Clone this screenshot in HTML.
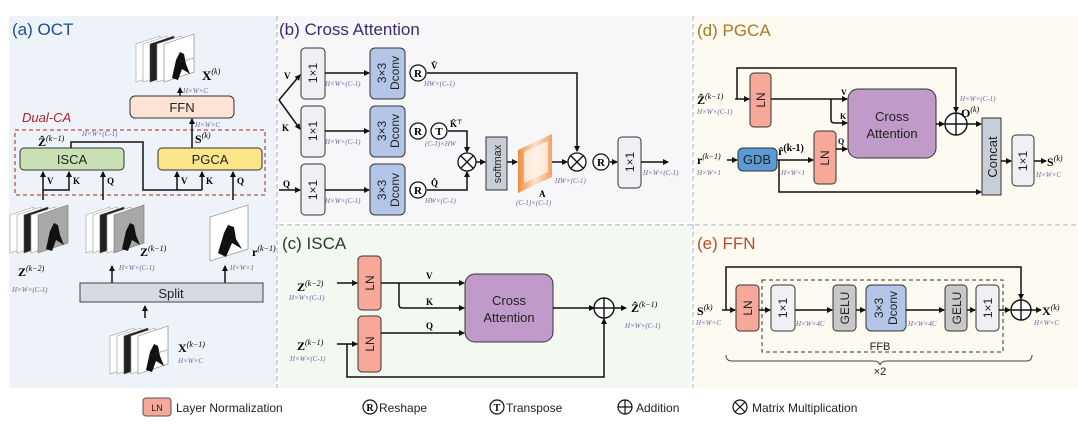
<!DOCTYPE html>
<html><head><meta charset="utf-8"><style>
html,body{margin:0;padding:0;background:#fff;}
svg{display:block;font-family:"Liberation Sans",sans-serif;}
.s{font-family:"Liberation Serif",serif;font-weight:bold;}
.d{font-family:"Liberation Serif",serif;font-style:italic;font-size:7px;fill:#6f62a0;}
.b{font-size:13px;fill:#222;}
</style></head><body>
<svg width="1078" height="428" viewBox="0 0 1078 428" xmlns="http://www.w3.org/2000/svg">
<defs>
<marker id="ar" markerWidth="6" markerHeight="6" refX="5" refY="3" orient="auto" markerUnits="userSpaceOnUse"><path d="M0,0 L6,3 L0,6 z" fill="#111"/></marker>
<linearGradient id="og" x1="0" x2="1"><stop offset="0" stop-color="#f08a3a"/><stop offset="0.5" stop-color="#fde3cc"/><stop offset="1" stop-color="#f5a060"/></linearGradient>
<g id="stk">
<polygon points="0,10 24,2 24,40 0,48" fill="#fff" stroke="#999" stroke-width="0.6"/>
<polygon points="7,10 31,2 31,40 7,48" fill="#fff" stroke="#999" stroke-width="0.6"/>
<polygon points="14,10 38,2 38,40 14,48" fill="#222" stroke="#555" stroke-width="0.6"/>
<polygon points="21,10 45,2 45,40 21,48" fill="#fff" stroke="#999" stroke-width="0.6"/>
<polygon points="28,10 58,0 58,38 28,48" fill="#fff" stroke="#777" stroke-width="0.6"/>
<path d="M36,44 L40,26 L44,18 L48,20 L50,30 L54,40 L46,35 L42,46 z" fill="#111"/>
<line x1="44" y1="28" x2="57" y2="24" stroke="#333" stroke-width="0.6" stroke-dasharray="2,1"/>
</g>
<g id="stkg">
<polygon points="0,10 24,2 24,40 0,48" fill="#fff" stroke="#999" stroke-width="0.6"/>
<polygon points="7,10 31,2 31,40 7,48" fill="#fff" stroke="#999" stroke-width="0.6"/>
<polygon points="14,10 38,2 38,40 14,48" fill="#222" stroke="#555" stroke-width="0.6"/>
<polygon points="21,10 45,2 45,40 21,48" fill="#fff" stroke="#999" stroke-width="0.6"/>
<polygon points="28,10 58,0 58,38 28,48" fill="#a8a8a8" stroke="#777" stroke-width="0.6"/>
<path d="M36,44 L40,26 L44,18 L48,20 L50,30 L54,40 L46,35 L42,46 z" fill="#111"/>
</g>
</defs>

<rect x="9" y="16" width="267" height="372" fill="#eef3fa"/>
<rect x="279" y="16" width="412" height="207" fill="#f7f7fa"/>
<rect x="279" y="227" width="412" height="161" fill="#f3f8f1"/>
<rect x="695" y="16" width="383" height="207" fill="#fdfaf2"/>
<rect x="695" y="227" width="383" height="161" fill="#fdfaf2"/>
<g stroke="#bbb" stroke-dasharray="5,3" stroke-width="1.2" fill="none">
<line x1="277" y1="16" x2="277" y2="388"/><line x1="693" y1="16" x2="693" y2="388"/>
<line x1="279" y1="225" x2="1078" y2="225"/>
</g>

<!-- (a) -->
<text x="12" y="35" font-size="17" fill="#1f4e8c">(a) OCT</text>
<use href="#stk" x="136" y="34"/>
<text x="202" y="80" class="s" font-size="13">X<tspan font-size="8" dy="-6" font-weight="normal" font-style="italic">(k)</tspan></text>
<text x="183" y="93" class="d">H×W×C</text>
<line x1="180" y1="96" x2="180" y2="88" stroke="#111" stroke-width="1.5" marker-end="url(#ar)"/>
<rect x="130" y="96" width="104" height="22" rx="5" fill="#fde3d6" stroke="#333"/>
<text x="182" y="112" class="b" text-anchor="middle">FFN</text>
<text x="22" y="122" font-size="13" font-style="italic" fill="#b22222">Dual-CA</text>
<rect x="15" y="130" width="250" height="65" fill="none" stroke="#b22222" stroke-dasharray="4,3"/>
<text x="195" y="127" class="d">H×W×C</text>
<line x1="192" y1="148" x2="192" y2="119" stroke="#111" stroke-width="1.5" marker-end="url(#ar)"/>
<text x="195" y="143" class="s" font-size="12">S<tspan font-size="8" dy="-5" font-weight="normal" font-style="italic">(k)</tspan></text>
<rect x="20" y="148" width="104" height="22" rx="4" fill="#c9e0b5" stroke="#333"/>
<text x="72" y="164" class="b" text-anchor="middle">ISCA</text>
<rect x="158" y="148" width="104" height="22" rx="4" fill="#fde58a" stroke="#333"/>
<text x="210" y="164" class="b" text-anchor="middle">PGCA</text>
<text x="38" y="146" class="s" font-size="12">Ẑ<tspan font-size="8" dy="-5" font-weight="normal" font-style="italic">(k−1)</tspan></text>
<text x="82" y="136" class="d">H×W×(C-1)</text>
<path d="M71,148 V142 H143 V190 H202" fill="none" stroke="#111" stroke-width="1.5"/>
<g stroke="#111" stroke-width="1.5" fill="none">
<line x1="43" y1="200" x2="43" y2="172" marker-end="url(#ar)"/>
<path d="M43,190 H69 V172" marker-end="url(#ar)"/>
<line x1="103" y1="200" x2="103" y2="172" marker-end="url(#ar)"/>
<line x1="177" y1="190" x2="177" y2="172" marker-end="url(#ar)"/>
<line x1="202" y1="190" x2="202" y2="172" marker-end="url(#ar)"/>
<line x1="233" y1="200" x2="233" y2="172" marker-end="url(#ar)"/>
</g>
<g class="s" font-size="9">
<text x="47" y="184">V</text><text x="73" y="184">K</text><text x="107" y="184">Q</text>
<text x="181" y="184">V</text><text x="206" y="184">K</text><text x="237" y="184">Q</text>
</g>
<use href="#stkg" x="10" y="205"/>
<use href="#stkg" x="86" y="205"/>
<g transform="translate(210,205)">
<polygon points="0,12 38,0 38,44 0,56" fill="#fff" stroke="#777" stroke-width="0.6"/>
<path d="M8,48 L14,28 L18,20 L24,22 L26,34 L32,44 L22,38 L16,52 z" fill="#111"/>
</g>
<text x="18" y="276" class="s" font-size="12">Z<tspan font-size="8" dy="-5" font-weight="normal" font-style="italic">(k−2)</tspan></text>
<text x="12" y="292" class="d">H×W×(C-1)</text>
<text x="140" y="256" class="s" font-size="12">Z<tspan font-size="8" dy="-5" font-weight="normal" font-style="italic">(k−1)</tspan></text>
<text x="119" y="270" class="d">H×W×(C-1)</text>
<text x="252" y="256" class="s" font-size="12">r<tspan font-size="8" dy="-5" font-weight="normal" font-style="italic">(k−1)</tspan></text>
<text x="230" y="270" class="d">H×W×1</text>
<line x1="112" y1="283" x2="112" y2="266" stroke="#111" stroke-width="1.5" marker-end="url(#ar)"/>
<line x1="225" y1="283" x2="225" y2="266" stroke="#111" stroke-width="1.5" marker-end="url(#ar)"/>
<rect x="80" y="283" width="183" height="19" fill="#d5dae3" stroke="#444"/>
<text x="171" y="298" class="b" text-anchor="middle">Split</text>
<line x1="145" y1="318" x2="145" y2="306" stroke="#111" stroke-width="1.5" marker-end="url(#ar)"/>
<use href="#stk" x="110" y="326"/>
<text x="178" y="352" class="s" font-size="12">X<tspan font-size="8" dy="-5" font-weight="normal" font-style="italic">(k−1)</tspan></text>
<text x="178" y="363" class="d">H×W×C</text>

<!-- (b) -->
<text x="279" y="35" font-size="17" fill="#3d2a6e">(b) Cross Attention</text>
<g fill="#eef0f3" stroke="#333">
<rect x="301" y="48" width="24" height="51" rx="4"/><rect x="301" y="106" width="24" height="51" rx="4"/><rect x="301" y="164" width="24" height="51" rx="4"/>
</g>
<g fill="#b4c6e7" stroke="#333">
<rect x="370" y="48" width="35" height="51" rx="5"/><rect x="370" y="106" width="35" height="51" rx="5"/><rect x="370" y="164" width="35" height="51" rx="5"/>
</g>
<g font-size="12" fill="#222" text-anchor="middle">
<text transform="translate(317,73) rotate(-90)">1×1</text>
<text transform="translate(317,131) rotate(-90)">1×1</text>
<text transform="translate(317,190) rotate(-90)">1×1</text>
<text transform="translate(386,73) rotate(-90)">3×3</text><text transform="translate(399,73) rotate(-90)">Dconv</text>
<text transform="translate(386,131) rotate(-90)">3×3</text><text transform="translate(399,131) rotate(-90)">Dconv</text>
<text transform="translate(386,190) rotate(-90)">3×3</text><text transform="translate(399,190) rotate(-90)">Dconv</text>
</g>
<g stroke="#111" stroke-width="1.5" fill="none">
<path d="M279,100 L300,75" marker-end="url(#ar)"/><path d="M279,100 L300,129" marker-end="url(#ar)"/>
<line x1="279" y1="190" x2="300" y2="190" marker-end="url(#ar)"/>
<line x1="325" y1="73" x2="369" y2="73" marker-end="url(#ar)"/>
<line x1="325" y1="131" x2="369" y2="131" marker-end="url(#ar)"/>
<line x1="325" y1="190" x2="369" y2="190" marker-end="url(#ar)"/>
<path d="M427,73 H577 V151" marker-end="url(#ar)"/>
<path d="M448,131 H467 V152" marker-end="url(#ar)"/>
<path d="M427,190 H467 V172" marker-end="url(#ar)"/>
<line x1="476" y1="162" x2="485" y2="162" marker-end="url(#ar)"/>
<line x1="507" y1="162" x2="517" y2="162" marker-end="url(#ar)"/>
<line x1="552" y1="162" x2="567" y2="162" marker-end="url(#ar)"/>
<line x1="610" y1="162" x2="617" y2="162" marker-end="url(#ar)"/>
<line x1="641" y1="162" x2="668" y2="162" marker-end="url(#ar)"/>
</g>
<g class="s" font-size="9"><text x="284" y="79">V</text><text x="282" y="131">K</text><text x="283" y="187">Q</text></g>
<g fill="#fff" stroke="#111" stroke-width="1.3">
<circle cx="418" cy="73" r="8"/><circle cx="418" cy="131" r="8"/><circle cx="439" cy="131" r="8"/><circle cx="418" cy="190" r="8"/>
<circle cx="467" cy="162" r="9"/><circle cx="577" cy="162" r="9"/><circle cx="601" cy="162" r="8"/>
</g>
<g stroke="#111" stroke-width="1.3"><path d="M461,156 L473,168 M473,156 L461,168"/><path d="M571,156 L583,168 M583,156 L571,168"/></g>
<g class="s" font-size="11" text-anchor="middle"><text x="418" y="77">R</text><text x="418" y="135">R</text><text x="439" y="135">T</text><text x="418" y="194">R</text><text x="601" y="166">R</text></g>
<g class="s" font-size="9"><text x="431" y="69">V̂</text><text x="450" y="127">K̂<tspan font-size="6" dy="-3">⊤</tspan></text><text x="431" y="186">Q̂</text><text x="539" y="197">A</text></g>
<text x="325" y="86" class="d">H×W×(C-1)</text><text x="325" y="144" class="d">H×W×(C-1)</text><text x="325" y="203" class="d">H×W×(C-1)</text>
<text x="424" y="86" class="d">HW×(C-1)</text><text x="425" y="146" class="d">(C-1)×HW</text><text x="425" y="203" class="d">HW×(C-1)</text>
<text x="555" y="183" class="d">HW×(C-1)</text><text x="516" y="205" class="d">(C-1)×(C-1)</text><text x="643" y="175" class="d">H×W×(C-1)</text>
<rect x="486" y="137" width="21" height="53" fill="#c8ced8" stroke="#333"/>
<text transform="translate(501,164) rotate(-90)" font-size="11" text-anchor="middle" fill="#222">softmax</text>
<polygon points="518,150 552,134 552,177 518,193" fill="url(#og)"/>
<polygon points="524,152 548,141 548,172 524,183" fill="#fff5ec" opacity="0.8"/>
<rect x="618" y="137" width="23" height="51" rx="4" fill="#eef0f3" stroke="#333"/>
<text transform="translate(634,162) rotate(-90)" font-size="12" text-anchor="middle" fill="#222">1×1</text>

<!-- (c) -->
<text x="282" y="249" font-size="17" fill="#24402a">(c) ISCA</text>
<rect x="358" y="256" width="23" height="54" rx="4" fill="#f7a899" stroke="#333"/>
<rect x="358" y="316" width="23" height="56" rx="4" fill="#f7a899" stroke="#333"/>
<text transform="translate(374,283) rotate(-90)" font-size="12" text-anchor="middle" fill="#222">LN</text>
<text transform="translate(374,344) rotate(-90)" font-size="12" text-anchor="middle" fill="#222">LN</text>
<rect x="465" y="274" width="88" height="68" rx="10" fill="#c09ac8" stroke="#333"/>
<text x="509" y="305" class="b" text-anchor="middle">Cross</text><text x="509" y="322" class="b" text-anchor="middle">Attention</text>
<g stroke="#111" stroke-width="1.5" fill="none">
<line x1="337" y1="283" x2="357" y2="283" marker-end="url(#ar)"/>
<line x1="337" y1="344" x2="357" y2="344" marker-end="url(#ar)"/>
<line x1="381" y1="283" x2="464" y2="283" marker-end="url(#ar)"/>
<path d="M399,283 V305 Q399,308 403,308 H464" marker-end="url(#ar)"/>
<line x1="381" y1="333" x2="464" y2="333" marker-end="url(#ar)"/>
<line x1="553" y1="308" x2="594" y2="308" marker-end="url(#ar)"/>
<path d="M347,344 V377 H604 V319" marker-end="url(#ar)"/>
<line x1="614" y1="308" x2="626" y2="308" marker-end="url(#ar)"/>
</g>
<g class="s" font-size="9"><text x="426" y="279">V</text><text x="426" y="305">K</text><text x="426" y="329">Q</text></g>
<circle cx="604" cy="308" r="10" fill="#fff" stroke="#111" stroke-width="1.4"/><path d="M594,308 H614 M604,298 V318" stroke="#111" stroke-width="1.4"/>
<text x="297" y="291" class="s" font-size="12">Z<tspan font-size="8" dy="-5" font-weight="normal" font-style="italic">(k−2)</tspan></text>
<text x="289" y="300" class="d">H×W×(C-1)</text>
<text x="297" y="350" class="s" font-size="12">Z<tspan font-size="8" dy="-5" font-weight="normal" font-style="italic">(k−1)</tspan></text>
<text x="290" y="361" class="d">H×W×(C-1)</text>
<text x="631" y="312" class="s" font-size="12">Ẑ<tspan font-size="8" dy="-5" font-weight="normal" font-style="italic">(k−1)</tspan></text>
<text x="625" y="328" class="d">H×W×(C-1)</text>

<!-- (d) -->
<text x="697" y="36" font-size="17" fill="#a87a22">(d) PGCA</text>
<rect x="750" y="73" width="21" height="54" rx="4" fill="#f7a899" stroke="#333"/>
<text transform="translate(765,100) rotate(-90)" font-size="12" text-anchor="middle" fill="#222">LN</text>
<rect x="814" y="131" width="22" height="53" rx="4" fill="#f7a899" stroke="#333"/>
<text transform="translate(829,158) rotate(-90)" font-size="12" text-anchor="middle" fill="#222">LN</text>
<rect x="738" y="148" width="39" height="23" rx="5" fill="#5b9bd5" stroke="#333"/>
<text x="757" y="164" class="b" text-anchor="middle">GDB</text>
<rect x="848" y="89" width="88" height="69" rx="10" fill="#c09ac8" stroke="#333"/>
<text x="892" y="121" class="b" text-anchor="middle">Cross</text><text x="892" y="138" class="b" text-anchor="middle">Attention</text>
<rect x="982" y="118" width="19" height="77" fill="#c8ced8" stroke="#333"/>
<text transform="translate(997,157) rotate(-90)" font-size="13" text-anchor="middle" fill="#222">Concat</text>
<rect x="1012" y="135" width="22" height="51" rx="4" fill="#eef0f3" stroke="#333"/>
<text transform="translate(1027,161) rotate(-90)" font-size="12" text-anchor="middle" fill="#222">1×1</text>
<g stroke="#111" stroke-width="1.5" fill="none">
<path d="M735,99 H749" marker-end="url(#ar)"/>
<path d="M737,99 V68 H956 V112" marker-end="url(#ar)"/>
<line x1="771" y1="99" x2="847" y2="99" marker-end="url(#ar)"/>
<path d="M831,99 V120 Q831,123 835,123 H847" marker-end="url(#ar)"/>
<line x1="836" y1="149" x2="847" y2="149" marker-end="url(#ar)"/>
<line x1="936" y1="124" x2="944" y2="124" marker-end="url(#ar)"/>
<line x1="967" y1="124" x2="981" y2="124" marker-end="url(#ar)"/>
<line x1="727" y1="160" x2="737" y2="160" marker-end="url(#ar)"/>
<line x1="777" y1="160" x2="813" y2="160" marker-end="url(#ar)"/>
<path d="M779,160 V192 H981" marker-end="url(#ar)"/>
<line x1="1001" y1="161" x2="1011" y2="161" marker-end="url(#ar)"/>
<line x1="1034" y1="161" x2="1046" y2="161" marker-end="url(#ar)"/>
</g>
<circle cx="956" cy="124" r="11" fill="#fff" stroke="#111" stroke-width="1.4"/><path d="M945,124 H967 M956,113 V135" stroke="#111" stroke-width="1.4"/>
<g class="s" font-size="8"><text x="841" y="95">V</text><text x="840" y="119">K</text><text x="838" y="144">Q</text></g>
<text x="697" y="104" class="s" font-size="12">Ẑ<tspan font-size="8" dy="-5" font-weight="normal" font-style="italic">(k−1)</tspan></text>
<text x="697" y="114" class="d">H×W×(C-1)</text>
<text x="697" y="164" class="s" font-size="12">r<tspan font-size="8" dy="-5" font-weight="normal" font-style="italic">(k−1)</tspan></text>
<text x="697" y="175" class="d">H×W×1</text>
<text x="778" y="155" class="s" font-size="12">r̂<tspan font-size="10" dy="-4">(k-1)</tspan></text>
<text x="781" y="175" class="d">H×W×1</text>
<text x="960" y="101" class="d">H×W×(C-1)</text>
<text x="961" y="117" class="s" font-size="12">O<tspan font-size="8" dy="-5" font-weight="normal" font-style="italic">(k)</tspan></text>
<text x="1047" y="166" class="s" font-size="12">S<tspan font-size="8" dy="-5" font-weight="normal" font-style="italic">(k)</tspan></text>
<text x="1036" y="177" class="d">H×W×C</text>

<!-- (e) -->
<text x="697" y="249" font-size="17" fill="#b0502a">(e) FFN</text>
<rect x="762" y="280" width="241" height="72" fill="none" stroke="#333" stroke-dasharray="4,3"/>
<rect x="736" y="285" width="23" height="46" rx="4" fill="#f7a899" stroke="#333"/>
<rect x="771" y="285" width="24" height="46" rx="4" fill="#eef0f3" stroke="#333"/>
<rect x="833" y="285" width="23" height="46" rx="4" fill="#c8c8c8" stroke="#333"/>
<rect x="866" y="285" width="40" height="46" rx="5" fill="#b4c6e7" stroke="#333"/>
<rect x="945" y="285" width="22" height="46" rx="4" fill="#c8c8c8" stroke="#333"/>
<rect x="976" y="285" width="23" height="46" rx="4" fill="#eef0f3" stroke="#333"/>
<g font-size="12" fill="#222" text-anchor="middle">
<text transform="translate(752,308) rotate(-90)">LN</text>
<text transform="translate(787,308) rotate(-90)">1×1</text>
<text transform="translate(849,308) rotate(-90)">GELU</text>
<text transform="translate(883,308) rotate(-90)">3×3</text><text transform="translate(897,308) rotate(-90)">Dconv</text>
<text transform="translate(961,308) rotate(-90)">GELU</text>
<text transform="translate(992,308) rotate(-90)">1×1</text>
</g>
<g stroke="#111" stroke-width="1.5" fill="none">
<line x1="722" y1="310" x2="735" y2="310" marker-end="url(#ar)"/>
<path d="M726,310 V267 H1021 V299" marker-end="url(#ar)"/>
<line x1="759" y1="310" x2="770" y2="310" marker-end="url(#ar)"/>
<line x1="795" y1="310" x2="832" y2="310" marker-end="url(#ar)"/>
<line x1="856" y1="310" x2="865" y2="310" marker-end="url(#ar)"/>
<line x1="906" y1="310" x2="944" y2="310" marker-end="url(#ar)"/>
<line x1="967" y1="310" x2="975" y2="310" marker-end="url(#ar)"/>
<line x1="999" y1="310" x2="1010" y2="310" marker-end="url(#ar)"/>
<line x1="1031" y1="310" x2="1041" y2="310" marker-end="url(#ar)"/>
</g>
<circle cx="1021" cy="310" r="10" fill="#fff" stroke="#111" stroke-width="1.4"/><path d="M1011,310 H1031 M1021,300 V320" stroke="#111" stroke-width="1.4"/>
<text x="697" y="315" class="s" font-size="12">S<tspan font-size="8" dy="-5" font-weight="normal" font-style="italic">(k)</tspan></text>
<text x="696" y="325" class="d">H×W×C</text>
<text x="796" y="326" class="d">H×W×4C</text><text x="908" y="326" class="d">H×W×4C</text>
<text x="1042" y="315" class="s" font-size="12">X<tspan font-size="8" dy="-5" font-weight="normal" font-style="italic">(k)</tspan></text>
<text x="1034" y="325" class="d">H×W×C</text>
<text x="880" y="350" font-size="11" text-anchor="middle" fill="#222">FFB</text>
<path d="M726,355 Q726,361 732,361 H873 Q879,361 880,365 Q881,361 887,361 H1026 Q1032,361 1032,355" fill="none" stroke="#444"/>
<text x="880" y="375" font-size="11" text-anchor="middle" fill="#222">×2</text>

<!-- legend -->
<rect x="143" y="398" width="28" height="18" rx="3" fill="#f7a899" stroke="#555"/>
<text x="157" y="411" font-size="9" text-anchor="middle" fill="#222">LN</text>
<text x="176" y="412" font-size="12" fill="#222">Layer Normalization</text>
<circle cx="370" cy="407" r="7" fill="#fff" stroke="#111" stroke-width="1.2"/><text x="370" y="411" class="s" font-size="10" text-anchor="middle">R</text>
<text x="379" y="412" font-size="12" fill="#222">Reshape</text>
<circle cx="497" cy="407" r="7" fill="#fff" stroke="#111" stroke-width="1.2"/><text x="497" y="411" class="s" font-size="10" text-anchor="middle">T</text>
<text x="506" y="412" font-size="12" fill="#222">Transpose</text>
<circle cx="625" cy="407" r="7" fill="#fff" stroke="#111" stroke-width="1.2"/><path d="M618,407 H632 M625,400 V414" stroke="#111" stroke-width="1.2"/>
<text x="636" y="412" font-size="12" fill="#222">Addition</text>
<circle cx="740" cy="407" r="7" fill="#fff" stroke="#111" stroke-width="1.2"/><path d="M735,402 L745,412 M745,402 L735,412" stroke="#111" stroke-width="1.2"/>
<text x="752" y="412" font-size="12" fill="#222">Matrix Multiplication</text>
</svg>
</body></html>
